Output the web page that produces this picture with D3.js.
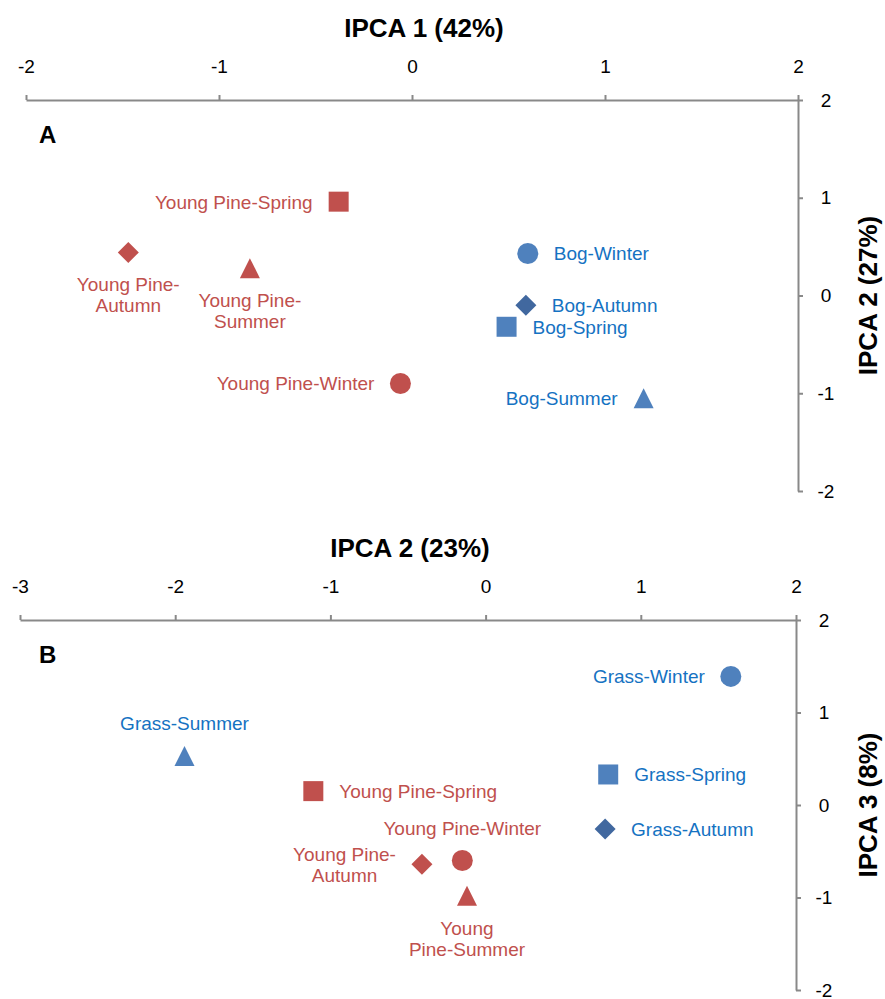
<!DOCTYPE html>
<meta charset="utf-8">
<style>
body { margin: 0; background: #fff; }
svg { font-family: "Liberation Sans", Arial, sans-serif; }
.axis path, .axis line { stroke: #898989; stroke-width: 2; }
.axis text { font-size: 19px; fill: #000; font-family: "Liberation Sans", Arial, sans-serif; }
</style>
<svg width="885" height="999"></svg>
<script src="https://cdn.jsdelivr.net/npm/d3@7"></script>
<script>

// panel A : IPCA 1 vs IPCA 2
var labelsA = ["Young Pine-Spring", "Young Pine-|Autumn", "Young Pine-|Summer", "Young Pine-Winter",
               "Bog-Winter", "Bog-Autumn", "Bog-Spring", "Bog-Summer"];
var xA = [-0.38, -1.47, -0.84, -0.06, 0.60, 0.59, 0.49, 1.20];
var yA = [0.96, 0.44, 0.28, -0.90, 0.43, -0.10, -0.32, -1.05];
var sideA = ["left", "below", "below", "left", "right", "right", "right", "left"];

// panel B : IPCA 2 vs IPCA 3
var labelsB = ["Grass-Winter", "Grass-Summer", "Grass-Spring", "Grass-Autumn",
               "Young Pine-Spring", "Young Pine-Winter", "Young Pine-|Autumn", "Young|Pine-Summer"];
var xB = [1.58, -1.94, 0.79, 0.77, -1.11, -0.15, -0.41, -0.12];
var yB = [1.39, 0.53, 0.33, -0.26, 0.15, -0.60, -0.64, -0.98];
var sideB = ["left", "above", "right", "right", "right", "above", "left", "below"];

var ticksA = [-2, -1, 0, 1, 2];
var ticksB = [-3, -2, -1, 0, 1, 2];
var ticksY = [-2, -1, 0, 1, 2];

var red = "#C0504D", blue = "#4F81BD", blueDark = "#41689F", blueText = "#1572C2";

var svg = d3.select("svg");
svg.append("rect").attr("width", 885).attr("height", 999).attr("fill", "#fff");

// custom marker shapes
function shapePath(season) {
  var p = d3.path();
  if (season == "Spring") { p.rect(-10, -10, 20, 20); }
  else if (season == "Winter") { p.arc(0, 0, 10.5, 0, 2 * Math.PI); }
  else if (season == "Autumn") { p.moveTo(0, -10.5); p.lineTo(10.5, 0); p.lineTo(0, 10.5); p.lineTo(-10.5, 0); p.closePath(); }
  else { p.moveTo(0, -10); p.lineTo(10, 10); p.lineTo(-10, 10); p.closePath(); }
  return p.toString();
}

function panel(o) {
  var x = d3.scaleLinear().domain(o.xdom).range(o.xr);
  var y = d3.scaleLinear().domain([-2, 2]).range(o.yr);
  var top = o.yr[1], right = o.xr[1];

  var g = svg.append("g");

  g.append("g").attr("class", "axis")
    .attr("transform", "translate(0," + top + ")")
    .call(d3.axisTop(x).tickValues(o.xticks).tickSize(5).tickSizeOuter(0).tickPadding(22)
      .tickFormat(function(d) { return String(d); }));

  var ya = g.append("g").attr("class", "axis")
    .attr("transform", "translate(" + right + ",0)")
    .call(d3.axisRight(y).tickValues(ticksY).tickSize(5).tickSizeOuter(0).tickPadding(22)
      .tickFormat(function(d) { return String(d); }));
  ya.selectAll("text").attr("text-anchor", "middle").attr("x", 28);
  g.selectAll(".domain").attr("stroke", "#898989");

  g.append("text").attr("x", o.titleX).attr("y", top - 63)
    .attr("text-anchor", "middle").attr("font-weight", "bold").attr("font-size", 26)
    .text(o.xtitle);
  g.append("text")
    .attr("transform", "translate(877," + y(0) + ") rotate(-90)")
    .attr("text-anchor", "middle").attr("font-weight", "bold").attr("font-size", 26)
    .text(o.ytitle);
  g.append("text").attr("x", 39).attr("y", top + 43)
    .attr("font-weight", "bold").attr("font-size", 24).text(o.letter);

  var data = o.labels.map(function(l, i) {
    var name = l.replace("|", "");
    return { lines: l.split("|"), season: name.split("-").pop(), pine: name.indexOf("Pine") >= 0,
             x: o.xs[i], y: o.ys[i], side: o.sides[i] };
  });

  g.selectAll("path.pt").data(data).enter().append("path")
    .attr("class", "pt")
    .attr("transform", function(d) { return "translate(" + x(d.x) + "," + y(d.y) + ")"; })
    .attr("d", function(d) { return shapePath(d.season); })
    .attr("fill", function(d) { return d.pine ? red : (d.season == "Autumn" ? blueDark : blue); });

  data.forEach(function(d) {
    var cx = x(d.x), cy = y(d.y), n = d.lines.length;
    var t = g.append("text").attr("font-size", 19)
      .attr("fill", d.pine ? red : blueText);
    var tx = cx, firstY;
    if (d.side == "below") firstY = cy + 39;
    else if (d.side == "above") firstY = cy - 26 - (n - 1) * 21;
    else { firstY = cy + 7 - (n - 1) * 10.5; }
    d.lines.forEach(function(line, k) {
      t.append("tspan").attr("y", firstY + k * 21).text(line);
    });
    if (d.side == "left" || d.side == "right") {
      var w = d3.max(t.selectAll("tspan").nodes(), function(s) { return s.getComputedTextLength(); });
      tx = d.side == "left" ? cx - 26 - w / 2 : cx + 26 + w / 2;
    }
    t.attr("text-anchor", "middle").selectAll("tspan").attr("x", tx);
  });
}

panel({ xdom: [-2, 2], xr: [26, 798], yr: [491, 100], xticks: ticksA,
        labels: labelsA, xs: xA, ys: yA, sides: sideA,
        xtitle: "IPCA 1 (42%)", ytitle: "IPCA 2 (27%)", titleX: 424, letter: "A" });

panel({ xdom: [-3, 2], xr: [20, 796], yr: [990, 620], xticks: ticksB,
        labels: labelsB, xs: xB, ys: yB, sides: sideB,
        xtitle: "IPCA 2 (23%)", ytitle: "IPCA 3 (8%)", titleX: 410, letter: "B" });

</script>
